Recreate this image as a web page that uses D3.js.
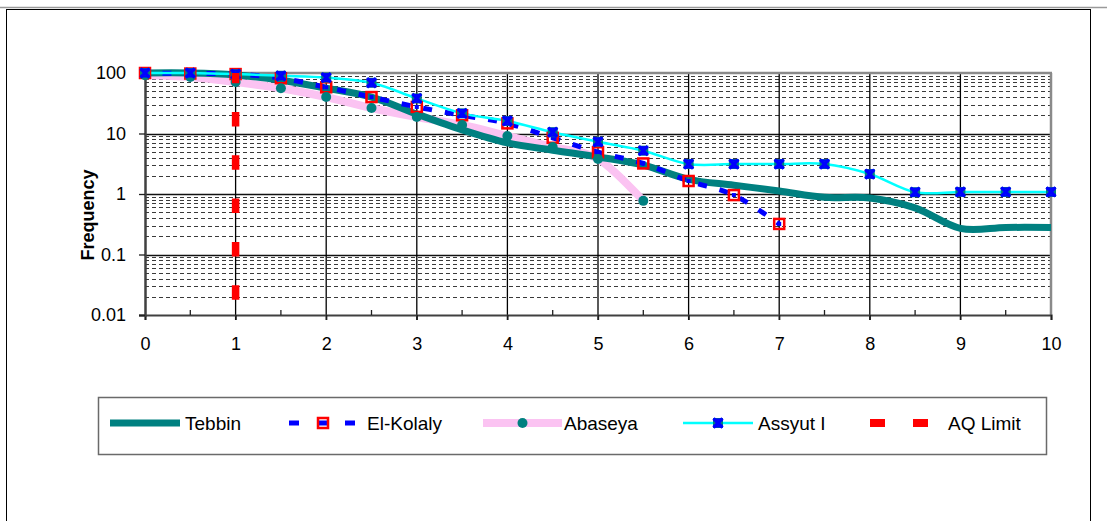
<!DOCTYPE html>
<html>
<head>
<meta charset="utf-8">
<script src="https://cdn.jsdelivr.net/npm/d3@7"></script>
<style>
  body { margin: 0; background: #fff; }
  svg { display: block; }
  text { font-family: "Liberation Sans", Arial, sans-serif; fill: #000; }
</style>
</head>
<body>
<svg id="chart" width="1107" height="521"></svg>
<script>
// Distance classes (x) and cumulative frequency (%) per site
const xValues   = [0, 0.5, 1, 1.5, 2, 2.5, 3, 3.5, 4, 4.5, 5, 5.5, 6, 6.5, 7, 7.5, 8, 8.5, 9, 9.5, 10];
const tebbin    = [100, 100, 93, 76, 56, 40, 21, 11.5, 7, 5.3, 4.1, 3.0, 1.75, 1.4, 1.12, 0.88, 0.86, 0.59, 0.27, 0.28, 0.28];
const elKolalyX = [0, 0.5, 1, 1.5, 2, 2.5, 3, 3.5, 4, 4.5, 5, 5.5, 6, 6.5, 7];
const elKolaly  = [100, 98, 96, 82, 58, 40, 27.5, 20, 14.7, 8.5, 4.9, 3.2, 1.64, 0.96, 0.32];
const abaseyaX  = [0, 0.5, 1, 1.5, 2, 2.5, 3, 3.5, 4, 4.5, 5, 5.5];
const abaseya   = [92, 86, 71, 56, 40, 26.4, 18.7, 13.8, 9.1, 6, 3.8, 0.77];
const assyut    = [100, 100, 96, 90, 84, 69, 38, 21.5, 16.1, 10.5, 7.3, 5.2, 3.13, 3.13, 3.13, 3.13, 2.14, 1.07, 1.08, 1.08, 1.08];
const aqX       = [1, 1];
const aqY       = [100, 0.01];

const xTicks      = [0, 1, 2, 3, 4, 5, 6, 7, 8, 9, 10];
const xMinorTicks = [0.5, 1.5, 2.5, 3.5, 4.5, 5.5, 6.5, 7.5, 8.5, 9.5];
const yTicks      = [0.01, 0.1, 1, 10, 100];
const yTickLabels = ["0.01", "0.1", "1", "10", "100"];
const seriesNames = ["Tebbin", "El-Kolaly", "Abaseya", "Assyut I", "AQ Limit"];
const yTitle = "Frequency";

const C = {
  teal: "#008080", blue: "#0000FF", pink: "#FBC3F2", cyan: "#00FFFF", red: "#FF0000"
};

const svg = d3.select("#chart");
const plot = { left: 145, right: 1051, top: 73, bottom: 315 };

const x = d3.scaleLinear().domain([0, 10]).range([plot.left, plot.right]);
const y = d3.scaleLog().domain([0.01, 100]).range([plot.bottom, plot.top]);

// page edge and chart frame
svg.append("line").attr("x1", 0).attr("x2", 1107).attr("y1", 7.5).attr("y2", 7.5)
  .attr("stroke", "#9a9a9a").attr("stroke-width", 1.5);
svg.append("rect").attr("x", 6.5).attr("y", 9.5).attr("width", 1084).attr("height", 530)
  .attr("fill", "none").attr("stroke", "#000").attr("stroke-width", 1);

// minor horizontal gridlines (2..9 within each decade)
const minorY = [];
[0.01, 0.1, 1, 10].forEach(d => { for (let k = 2; k <= 9; k++) minorY.push(d * k); });
svg.append("g").selectAll("line").data(minorY).join("line")
  .attr("x1", plot.left).attr("x2", plot.right)
  .attr("y1", d => Math.round(y(d)) + 0.5).attr("y2", d => Math.round(y(d)) + 0.5)
  .attr("stroke", "#3a3a3a").attr("stroke-width", 1.2).attr("stroke-dasharray", "4,3");

// major horizontal gridlines
svg.append("g").selectAll("line").data(yTicks.slice(1, 4)).join("line")
  .attr("x1", plot.left).attr("x2", plot.right)
  .attr("y1", d => Math.round(y(d)) + 0.5).attr("y2", d => Math.round(y(d)) + 0.5)
  .attr("stroke", "#111").attr("stroke-width", 1.3);

// vertical gridlines at integer x
svg.append("g").selectAll("line").data(xTicks.slice(1, 10)).join("line")
  .attr("x1", d => x(d)).attr("x2", d => x(d))
  .attr("y1", plot.top).attr("y2", plot.bottom + 5)
  .attr("stroke", "#000").attr("stroke-width", 1.3);

// plot frame: top and right in grey, axes in dark grey
svg.append("line").attr("x1", plot.left).attr("x2", plot.right + 1).attr("y1", plot.top).attr("y2", plot.top)
  .attr("stroke", "#8a8a8a").attr("stroke-width", 2.5);
svg.append("line").attr("x1", plot.right).attr("x2", plot.right).attr("y1", plot.top).attr("y2", plot.bottom)
  .attr("stroke", "#8a8a8a").attr("stroke-width", 2.5);

// x axis
const xAxis = svg.append("g").attr("transform", `translate(0,${plot.bottom})`)
  .call(d3.axisBottom(x).tickValues(xTicks).tickSize(5).tickPadding(17).tickFormat(d3.format("d")));
xAxis.select(".domain").attr("stroke", "#404040").attr("stroke-width", 2.2);
xAxis.selectAll(".tick line").attr("stroke", "#202020").attr("stroke-width", 1.3);
xAxis.selectAll("text").attr("font-size", 18).attr("font-family", "Liberation Sans, Arial, sans-serif");
svg.append("g").selectAll("line").data(xMinorTicks).join("line")
  .attr("x1", d => x(d)).attr("x2", d => x(d))
  .attr("y1", plot.bottom - 5).attr("y2", plot.bottom)
  .attr("stroke", "#202020").attr("stroke-width", 1.3);

// y axis
const yAxis = svg.append("g").attr("transform", `translate(${plot.left},0)`)
  .call(d3.axisLeft(y).tickValues(yTicks).tickSize(6).tickPadding(13)
    .tickFormat((d, i) => yTickLabels[i]));
yAxis.select(".domain").attr("stroke", "#404040").attr("stroke-width", 2.5);
yAxis.selectAll(".tick line").attr("stroke", "#202020").attr("stroke-width", 1.3);
yAxis.selectAll("text").attr("font-size", 18).attr("font-family", "Liberation Sans, Arial, sans-serif");

svg.append("text")
  .attr("transform", "translate(94,215) rotate(-90)")
  .attr("text-anchor", "middle").attr("font-size", 18).attr("font-weight", "bold")
  .text(yTitle);

// curves (smoothed in screen space)
const curve = d3.curveCatmullRom.alpha(0);
const lineOf = (xs, ys) => d3.line().curve(curve)(xs.map((v, i) => [x(v), y(ys[i])]));

const lines = svg.append("g").attr("fill", "none");
lines.append("path").attr("d", lineOf(abaseyaX, abaseya))
  .attr("stroke", C.pink).attr("stroke-width", 8);
lines.append("path").attr("d", lineOf(xValues, tebbin))
  .attr("stroke", C.teal).attr("stroke-width", 7);
lines.append("path").attr("d", lineOf(elKolalyX, elKolaly))
  .attr("stroke", C.blue).attr("stroke-width", 5).attr("stroke-dasharray", "9,13").attr("stroke-dashoffset", 4.5);
lines.append("path").attr("d", lineOf(xValues, assyut))
  .attr("stroke", C.cyan).attr("stroke-width", 2.5);

// marker painters
function squareMarker(g, cx, cy) {
  g.append("rect").attr("x", cx - 5).attr("y", cy - 5).attr("width", 10).attr("height", 10)
    .attr("fill", "none").attr("stroke", C.red).attr("stroke-width", 2.5);
  g.append("rect").attr("x", cx - 2).attr("y", cy - 2).attr("width", 4).attr("height", 4).attr("fill", C.blue);
}
function circleMarker(g, cx, cy) {
  g.append("circle").attr("cx", cx).attr("cy", cy).attr("r", 5).attr("fill", C.teal);
}
function crossMarker(g, cx, cy) {
  g.append("rect").attr("x", cx - 5).attr("y", cy - 5).attr("width", 10).attr("height", 10).attr("fill", C.teal);
  g.append("path").attr("d", `M${cx - 4.5},${cy - 4.5}L${cx + 4.5},${cy + 4.5}M${cx + 4.5},${cy - 4.5}L${cx - 4.5},${cy + 4.5}`)
    .attr("stroke", C.blue).attr("stroke-width", 3.2);
  g.append("rect").attr("x", cx - 4.5).attr("y", cy - 4.5).attr("width", 9).attr("height", 2).attr("fill", C.blue);
  g.append("rect").attr("x", cx - 4.5).attr("y", cy + 2.5).attr("width", 9).attr("height", 2).attr("fill", C.blue);
}

const marks = svg.append("g");
elKolalyX.forEach((v, i) => squareMarker(marks, x(v), y(elKolaly[i])));
abaseyaX.forEach((v, i) => circleMarker(marks, x(v), y(abaseya[i])));
xValues.forEach((v, i) => crossMarker(marks, x(v), y(assyut[i])));

// AQ limit: vertical red dashed line
svg.append("path").attr("d", d3.line()(aqX.map((v, i) => [x(v), y(aqY[i])])))
  .attr("fill", "none").attr("stroke", C.red).attr("stroke-width", 7.5)
  .attr("stroke-dasharray", "14.5,28.8").attr("stroke-dashoffset", 4.3);

// legend
const legend = svg.append("g");
legend.append("rect").attr("x", 98.5).attr("y", 397.5).attr("width", 948).attr("height", 57)
  .attr("fill", "#fff").attr("stroke", "#6a6a6a").attr("stroke-width", 1.5);
const ly = 423;
const entries = [
  { x0: 110, x1: 180, tx: 185 },
  { x0: 289, x1: 357, tx: 367 },
  { x0: 483, x1: 562, tx: 564 },
  { x0: 683, x1: 753, tx: 758 },
  { x0: 870, x1: 928, tx: 948 }
];
// Tebbin
legend.append("line").attr("x1", entries[0].x0).attr("x2", entries[0].x1).attr("y1", ly).attr("y2", ly)
  .attr("stroke", C.teal).attr("stroke-width", 7);
// El-Kolaly
legend.append("line").attr("x1", entries[1].x0).attr("x2", entries[1].x1).attr("y1", ly).attr("y2", ly)
  .attr("stroke", C.blue).attr("stroke-width", 5).attr("stroke-dasharray", "10,18");
squareMarker(legend, (entries[1].x0 + entries[1].x1) / 2, ly);
// Abaseya
legend.append("line").attr("x1", entries[2].x0).attr("x2", entries[2].x1).attr("y1", ly).attr("y2", ly)
  .attr("stroke", C.pink).attr("stroke-width", 8);
circleMarker(legend, (entries[2].x0 + entries[2].x1) / 2, ly);
// Assyut I
legend.append("line").attr("x1", entries[3].x0).attr("x2", entries[3].x1).attr("y1", ly).attr("y2", ly)
  .attr("stroke", C.cyan).attr("stroke-width", 2.5);
crossMarker(legend, (entries[3].x0 + entries[3].x1) / 2, ly);
// AQ Limit
legend.append("line").attr("x1", entries[4].x0).attr("x2", entries[4].x1).attr("y1", ly).attr("y2", ly)
  .attr("stroke", C.red).attr("stroke-width", 8).attr("stroke-dasharray", "15,28");

legend.selectAll("text.lbl").data(seriesNames).join("text").attr("class", "lbl")
  .attr("x", (d, i) => entries[i].tx).attr("y", ly + 7)
  .attr("font-size", 19).text(d => d);
</script>
</body>
</html>
